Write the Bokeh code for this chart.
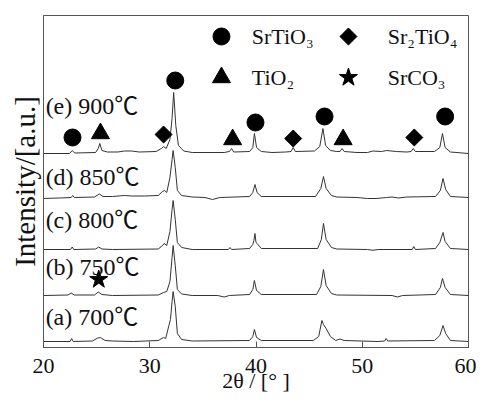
from bokeh.plotting import figure
from bokeh.models import Range1d, FixedTicker
from bokeh.embed import file_html
from bokeh.resources import INLINE
from bokeh.core.properties import value

# ---------------- data ----------------
X_TICKS = [20, 30, 40, 50, 60]
SAMPLES = ["(a) 700℃", "(b) 750℃", "(c) 800℃", "(d) 850℃", "(e) 900℃"]

# relative intensity [a.u.] vs 2theta [deg]
TRACE_A = [(20, 0), (22.5, 0), (22.65, 3), (22.8, 0), (24.6, 0.5), (25.1, 3.5), (25.35, 4), (25.8, 1),
           (26.5, 0.5), (28.5, 0), (30.8, 1), (31.3, 4), (31.5, 3), (31.8, 16), (31.95, 22), (32.1, 40),
           (32.2, 50), (32.4, 35), (32.6, 8), (33.0, 2), (34, 0.5), (39.4, 1), (39.7, 5), (39.85, 12),
           (40.05, 4), (40.5, 1), (45.4, 1), (45.9, 5), (46.2, 21), (46.35, 17), (46.6, 13), (47.0, 5),
           (47.5, 1), (47.9, 2.5), (48.3, 1), (51.5, 0), (52.1, 0.5), (52.25, 3), (52.4, 0.5),
           (56.8, 1), (57.3, 6), (57.6, 16), (57.85, 8), (58.3, 1), (60, 0)]
TRACE_B = [(20, 0), (22.3, 0.5), (22.6, 2.5), (22.9, 0.5), (24.8, 0.5), (25.15, 3.5), (25.5, 1), (26.5, 0),
           (30.8, 0.5), (31.3, 3), (31.6, 4), (31.9, 14), (32.1, 38), (32.2, 50), (32.4, 30), (32.6, 6),
           (33.0, 1.5), (34, 0), (36.4, 0), (37.0, -1.5), (37.5, 0), (39.4, 1), (39.7, 6), (39.85, 15),
           (40.05, 5), (40.5, 1), (45.7, 1), (46.1, 9), (46.35, 26), (46.6, 10), (47.1, 2), (47.6, 0.5),
           (52.8, 0), (53.3, -1.5), (53.8, 0), (56.9, 1), (57.35, 8), (57.55, 17), (57.8, 8), (58.3, 1),
           (60, 0)]
TRACE_C = [(20, 0), (22.55, 0), (22.7, 2.5), (22.85, 0), (24.9, 0.5), (25.2, 2.5), (25.5, 0.5), (26.5, 0),
           (30.8, 0.5), (31.2, 4), (31.35, 6), (31.6, 4), (31.9, 18), (32.1, 40), (32.2, 49), (32.4, 30),
           (32.6, 7), (33.0, 2), (34, 0), (37.4, 0), (37.55, 2), (37.7, 0), (39.4, 1), (39.7, 5),
           (39.8, 9), (39.9, 16), (40.0, 7), (40.1, 6), (40.5, 1), (45.8, 1), (46.15, 10), (46.35, 26),
           (46.6, 10), (47.1, 2), (47.6, 0.5), (50.5, 0), (51.0, -0.8), (51.5, 0), (54.7, 0), (54.85, 3),
           (55.0, 0), (56.9, 1), (57.3, 7), (57.6, 17), (57.8, 8), (58.3, 1), (60, 0)]
TRACE_D = [(20, -1), (21.5, -0.5), (22.6, 0), (22.75, 2), (22.9, 0), (24.8, 0.5), (25.25, 3.5), (25.6, 1),
           (26.5, 1), (27.6, 2), (28.3, 1.5), (29.5, 1.5), (30.8, 2), (31.2, 6), (31.4, 7), (31.6, 5),
           (31.9, 20), (32.1, 38), (32.2, 47), (32.4, 30), (32.6, 7), (33.0, 2), (34, 0.5), (35.2, 0),
           (35.9, -2), (36.6, 0), (39.4, 1), (39.7, 5), (39.9, 13), (40.1, 5), (40.5, 1), (45.6, 1),
           (46.1, 9), (46.35, 21), (46.6, 9), (47.1, 2), (47.6, 0.5), (49.5, 0), (50.5, -1), (51.3, -1),
           (52.3, 0), (52.8, 0.5), (53.4, -0.5), (54.2, 0.5), (56.9, 1), (57.35, 7), (57.6, 19),
           (57.85, 8), (58.3, 1), (60, 0)]
TRACE_E = [(20, 0), (22.45, 0), (22.7, 3), (22.95, 0.5), (24.9, 1), (25.15, 5), (25.3, 10), (25.5, 3),
           (26.0, 1.5), (27.0, 1.5), (27.6, 2.5), (28.3, 2.5), (29.0, 1.5), (30.6, 2), (31.1, 5), (31.3, 7),
           (31.55, 5), (31.9, 14), (32.1, 35), (32.25, 61), (32.45, 28), (32.7, 8), (33.2, 2.5), (34, 1),
           (37.0, 1), (37.5, 2), (37.7, 5), (37.9, 1.5), (39.4, 2), (39.7, 6), (39.85, 20), (40.05, 6),
           (40.5, 2), (41.5, 1), (42.8, 1.5), (43.3, 2), (43.5, 6), (43.7, 2), (45.5, 2.5), (46.0, 7),
           (46.3, 25), (46.55, 8), (47.0, 3), (47.6, 2), (47.9, 2), (48.1, 5), (48.3, 2), (49.5, 1),
           (50.5, 1), (51.0, 2.5), (51.8, 2), (52.3, 3), (53.2, 2), (54.2, 1.5), (54.6, 2), (54.8, 5),
           (55.0, 2), (56.8, 2), (57.3, 6), (57.55, 20), (57.8, 6), (58.3, 1.5), (60, 0)]
TRACES = [TRACE_A, TRACE_B, TRACE_C, TRACE_D, TRACE_E]

# phase markers (2theta, height in plot a.u.)
SRTIO3_X = [22.73, 32.4, 39.95, 46.45, 57.8]
SRTIO3_Y = [210, 267, 225, 231, 231]
TIO2_X = [25.36, 37.8, 48.2]
TIO2_Y = [214, 208, 208]
SR2TIO4_X = [31.3, 43.5, 54.9]
SR2TIO4_Y = [213, 209, 210]
SRCO3_X = [25.2]
SRCO3_Y = [68]

# ---------------- layout ----------------
OFFSETS = [6, 52, 98, 150, 194]
LABEL_Y = [31, 81, 128, 171, 242]
SERIF = "Liberation Serif, Noto Sans CJK JP, serif"
INK = "#111111"

p = figure(frame_width=425, frame_height=332,
           x_range=Range1d(20, 60), y_range=Range1d(0, 332),
           output_backend="svg", toolbar_location=None,
           min_border_left=43, min_border_right=8, min_border_top=15, min_border_bottom=56)
p.grid.visible = False
p.background_fill_color = "white"
p.border_fill_color = "white"
p.outline_line_color = "#555555"
p.outline_line_width = 1

xa = p.xaxis[0]
xa.ticker = FixedTicker(ticks=X_TICKS)
xa.major_tick_in = 6
xa.major_tick_out = 0
xa.minor_tick_line_color = None
xa.axis_line_color = "#555555"
xa.major_tick_line_color = "#555555"
xa.major_label_text_font = SERIF
xa.major_label_text_font_size = "22px"
xa.major_label_text_color = INK
xa.major_label_standoff = 11
xa.axis_label = "2θ / [° ]"
xa.axis_label_text_font = SERIF
xa.axis_label_text_font_size = "22px"
xa.axis_label_text_font_style = "normal"
xa.axis_label_text_color = INK
xa.axis_label_standoff = -8

ya = p.yaxis[0]
ya.ticker = FixedTicker(ticks=[])
ya.axis_line_color = "#555555"
ya.major_tick_line_color = None
ya.minor_tick_line_color = None
ya.axis_label = "Intensity/[a.u.]"
ya.axis_label_text_font = SERIF
ya.axis_label_text_font_size = "29px"
ya.axis_label_text_font_style = "normal"
ya.axis_label_text_color = INK
ya.axis_label_standoff = 3

for tr, off in zip(TRACES, OFFSETS):
    xs = [t[0] for t in tr]
    ys = [t[1] + off for t in tr]
    p.line(xs, ys, line_color="#333333", line_width=1)

p.text(x=[20.2] * len(SAMPLES), y=LABEL_Y, text=SAMPLES, text_font=value(SERIF),
       text_font_size="24px", text_baseline="middle", text_align="left", text_color=INK)

p.scatter(SRTIO3_X, SRTIO3_Y, marker="circle", size=17, color="black")
p.scatter(TIO2_X, TIO2_Y, marker="triangle", size=18, color="black")
p.scatter(SR2TIO4_X, SR2TIO4_Y, marker="square", size=12, angle=0.785398, color="black")
p.scatter(SRCO3_X, SRCO3_Y, marker="star", size=19, color="black")

# legend (manual, as in the figure)
LEG_MARK_X = [36.75, 48.7, 36.75, 48.7]
LEG_MARK_Y = [311, 311, 270, 270]
LEG_TEXT_X = [39.6, 52.4, 39.6, 52.4]
LEG_TEXT = ["SrTiO₃", "Sr₂TiO₄", "TiO₂", "SrCO₃"]
p.scatter([LEG_MARK_X[0]], [LEG_MARK_Y[0]], marker="circle", size=17, color="black")
p.scatter([LEG_MARK_X[1]], [LEG_MARK_Y[1]], marker="square", size=12, angle=0.785398, color="black")
p.scatter([LEG_MARK_X[2]], [LEG_MARK_Y[2]], marker="triangle", size=18, color="black")
p.scatter([LEG_MARK_X[3]], [LEG_MARK_Y[3]], marker="star", size=19, color="black")
p.text(x=LEG_TEXT_X, y=LEG_MARK_Y, text=LEG_TEXT, text_font=value(SERIF),
       text_font_size="22px", text_baseline="middle", text_align="left", text_color=INK)

open("out.html", "w").write(file_html(p, INLINE))
